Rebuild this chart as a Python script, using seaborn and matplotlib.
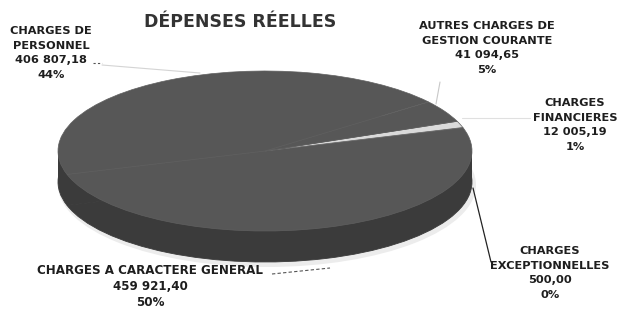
import numpy as np
import matplotlib
matplotlib.use('Agg')
import matplotlib.pyplot as plt
import matplotlib.transforms as mtransforms
from matplotlib.patches import Rectangle, Ellipse
import seaborn as sns

# DATA (order = drawing order of the slices, counter-clockwise)
categories = ['CHARGES A CARACTERE GENERAL', 'CHARGES\nEXCEPTIONNELLES', 'CHARGES\nFINANCIERES',
              'AUTRES CHARGES DE\nGESTION COURANTE', 'CHARGES DE\nPERSONNEL']
amounts = [459921.40, 500.00, 12005.19, 41094.65, 406807.18]
amount_labels = ['459 921,40', '500,00', '12 005,19', '41 094,65', '406 807,18']
pct_labels = ['50%', '0%', '1%', '5%', '44%']

# STYLE
sns.set_theme(style='white')
plt.rcParams['font.family'] = ['DejaVu Sans']
slice_colors = ['#575757', '#575757', '#dadada', '#575757', '#575757']
side_color = '#3b3b3b'

fig = plt.figure(figsize=(6.24, 3.12), dpi=100)
ax = fig.add_axes([0, 0, 1, 1])

# ellipse geometry of the 3D pie (pixels)
cx, cy, rx, ry, depth = 265, 151, 207, 80, 31
start = 197

side_wedges, _ = ax.pie(amounts, startangle=start, colors=[side_color] * len(amounts),
                        wedgeprops=dict(edgecolor=side_color, linewidth=0.6))
top_wedges, _ = ax.pie(amounts, startangle=start, colors=slice_colors,
                       wedgeprops=dict(edgecolor='#606060', linewidth=0.5))

top_tf = mtransforms.Affine2D().scale(rx, -ry).translate(cx, cy) + ax.transData
side_tf = mtransforms.Affine2D().scale(rx, -ry).translate(cx, cy + depth) + ax.transData
for w in side_wedges:
    w.set_transform(side_tf)
    w.set_zorder(2)
for w in top_wedges:
    w.set_transform(top_tf)
    w.set_zorder(4)

ax.add_patch(Rectangle((cx - rx, cy), 2 * rx, depth, color=side_color, zorder=2, lw=0))
# soft shadow around the base
ax.add_patch(Ellipse((cx + 2, cy + depth + 3), 2 * rx + 4, 2 * ry + 4, color='#ececec', zorder=1, lw=0))

ax.set_aspect('auto')
ax.set_xlim(0, 624)
ax.set_ylim(312, 0)
ax.axis('off')

# TITLE
ax.text(240, 22, 'DÉPENSES RÉELLES', ha='center', va='center', fontsize=12.5,
        fontweight='bold', color='#333333', zorder=6)

# LABELS
label_pos = [(150, 286), (550, 273), (575, 125), (487, 48), (51, 53)]
label_size = [8.6, 8.2, 8.2, 8.2, 8.2]
label_spacing = [1.3, 1.55, 1.55, 1.55, 1.55]
for name, amt, pct, (x, y), fs, ls in zip(categories, amount_labels, pct_labels,
                                          label_pos, label_size, label_spacing):
    ax.text(x, y, name + '\n' + amt + '\n' + pct, ha='center', va='center', fontsize=fs,
            fontweight='bold', color='#1e1e1e', linespacing=ls, zorder=6)

# leader lines
ax.plot([93, 102], [63, 63], color='#555555', lw=0.8, ls=(0, (2, 2)), zorder=5)
ax.plot([102, 200], [65, 73], color='#d4d4d4', lw=0.8, zorder=5)
ax.plot([440, 436], [82, 104], color='#c8c8c8', lw=0.8, zorder=5)
ax.plot([462, 530], [118, 118], color='#e0e0e0', lw=0.8, zorder=5)
ax.plot([473, 491], [188, 262], color='#222222', lw=0.9, zorder=5)
ax.plot([272, 330], [274, 268], color='#555555', lw=0.8, ls=(0, (3, 2)), zorder=5)

fig.savefig('out.png', dpi=100, facecolor='white')
